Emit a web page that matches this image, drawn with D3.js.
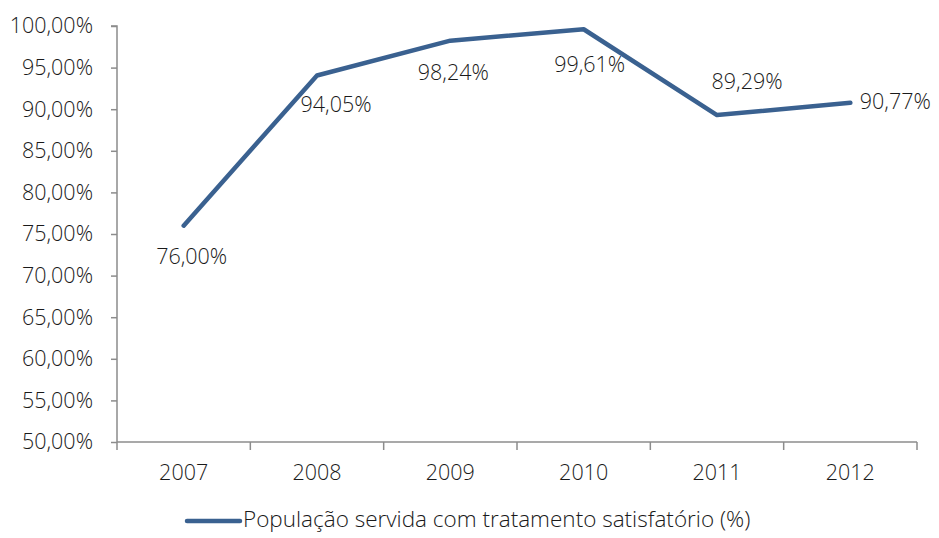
<!DOCTYPE html>
<html><head><meta charset="utf-8">
<script src="https://cdn.jsdelivr.net/npm/d3@7"></script>
<style>
body{margin:0;background:#fff;}
text{font-family:"Open Sans",Lato,sans-serif;font-weight:300;fill:#1a1a1a;}
</style></head>
<body><svg id="c" width="939" height="538"></svg>
<script>
const years = ["2007","2008","2009","2010","2011","2012"];
const values = [76.00, 94.05, 98.24, 99.61, 89.29, 90.77];
const labels = ["76,00%","94,05%","98,24%","99,61%","89,29%","90,77%"];
const yTicks = [50,55,60,65,70,75,80,85,90,95,100];
const seriesName = "População servida com tratamento satisfatório (%)";
// label offsets (dx, dy) relative to point
const labelOff = [[8,33],[19,31],[3,34],[6,37],[30,-32],[45,0]];

const svg = d3.select("#c");
const m = {l:117, r:22, t:26, b:96};
const W = 939, H = 538;
const fs = "21.5px";
const x = d3.scaleBand().domain(years).range([m.l, W-m.r]);
const y = d3.scaleLinear().domain([50,100]).range([H-m.b, m.t]);
const fmt = d => d3.format(".2f")(d).replace(".",",")+"%";
const axisColor = "#8c8c8c";

const ya = svg.append("g").attr("transform",`translate(${m.l},0)`)
  .call(d3.axisLeft(y).tickValues(yTicks).tickFormat(fmt).tickSize(6).tickPadding(18));
const xa = svg.append("g").attr("transform",`translate(0,${y(50)})`)
  .call(d3.axisBottom(x).tickSize(0).tickPadding(23));
xa.selectAll(".bnd").data(d3.range(years.length+1)).enter().append("line")
  .attr("x1",i=>m.l+i*x.bandwidth()).attr("x2",i=>m.l+i*x.bandwidth())
  .attr("y1",0).attr("y2",8).attr("stroke",axisColor).attr("stroke-width",1.5);
[ya,xa].forEach(g=>{
  g.selectAll("path,line").attr("stroke",axisColor).attr("stroke-width",1.5);
  g.selectAll("text").style("font-size",fs).attr("fill","#1a1a1a");
});
ya.select(".domain").attr("d",`M-6,${y(100)}H0V${y(50)}`);
xa.select(".domain").attr("d",`M${m.l},0H${W-m.r}`);

const cx = d=>x(d)+x.bandwidth()/2;
svg.append("path").datum(values)
  .attr("fill","none").attr("stroke","#3a6190").attr("stroke-width",4.5)
  .attr("stroke-linecap","round").attr("stroke-linejoin","round")
  .attr("d", d3.line().x((d,i)=>cx(years[i])).y(d=>y(d)));

svg.selectAll(".lbl").data(values).enter().append("text")
  .attr("x",(d,i)=>cx(years[i])+labelOff[i][0])
  .attr("y",(d,i)=>y(d)+labelOff[i][1])
  .attr("text-anchor","middle").attr("dominant-baseline","middle")
  .style("font-size",fs).text((d,i)=>labels[i]);

const lg = svg.append("g");
lg.append("line").attr("x1",187).attr("x2",240).attr("y1",521).attr("y2",521)
  .attr("stroke","#3a6190").attr("stroke-width",4.5).attr("stroke-linecap","round");
lg.append("text").attr("x",243).attr("y",521).attr("dominant-baseline","middle")
  .style("font-size","22.5px").text(seriesName);
</script></body></html>
